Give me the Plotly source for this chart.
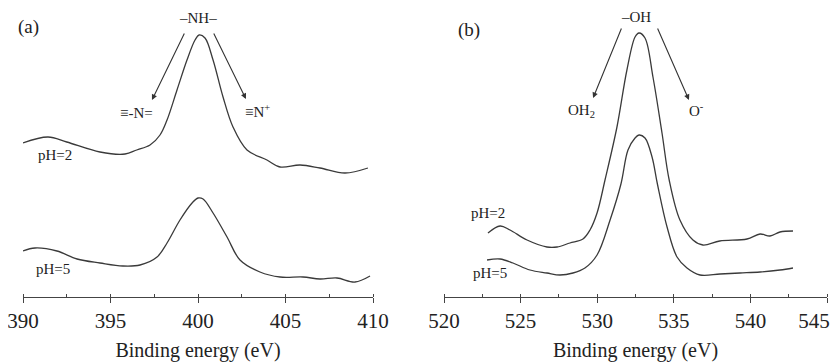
import plotly.graph_objects as go

# Panel (a): N 1s
a_ph2_x = [390, 391.43, 392.5, 394.4, 395.83, 396.5, 397.26, 397.83, 398.23, 398.8, 399.37, 399.83,
           400.06, 400.4, 400.86, 401.43, 402, 402.8, 403.94, 404.69, 405.83, 406.97, 408.4, 409.71]
a_ph2_y = [154, 160, 155, 145, 143, 147, 152, 162, 177, 207, 237, 257,
           262, 259, 237, 200, 170, 147, 137, 130, 132, 129, 124, 129]
a_ph5_x = [390, 390.69, 391.94, 393.09, 394.4, 395.71, 396.69, 397.66, 398.23, 398.97, 399.66, 400,
           400.29, 400.86, 401.66, 402.4, 403.54, 404.69, 406, 406.97, 407.94, 408.97, 409.83]
a_ph5_y = [46, 49, 46, 38, 34, 31, 32, 40, 54, 77, 94, 99,
           98, 84, 60, 37, 25, 20, 20, 18, 19, 15, 21]

# Panel (b): O 1s
b_ph2_x = [522.87, 523.66, 524.31, 525.42, 526.72, 527.38, 528.22, 529.07, 529.53, 529.99, 530.51,
           531.29, 531.94, 532.47, 532.73, 533.12, 533.64, 534.23, 534.7, 535.4, 536.25, 536.9,
           538.0, 539.78, 540.63, 541.28, 541.93, 542.78]
b_ph2_y = [64, 71, 67, 57, 50, 50, 54, 58, 67, 84, 117,
           170, 227, 260, 264, 259, 220, 164, 117, 77, 57, 52,
           56, 58, 63, 61, 65, 66]
b_ph5_x = [522.81, 523.66, 524.5, 525.61, 526.72, 527.57, 528.42, 529.2, 529.99, 530.84, 531.55,
           532.01, 532.47, 532.73, 533.12, 533.58, 533.93, 534.56, 535.21, 535.86, 536.71, 538.02,
           539.32, 540.63, 541.93, 542.78]
b_ph5_y = [37, 38, 34, 27, 24, 22, 24, 29, 42, 77, 113,
           147, 159, 162, 159, 140, 113, 70, 40, 29, 22, 23,
           24, 25, 27, 29]

a_ticks = [390, 395, 400, 405, 410]
a_tick_labels = ["390", "395", "400", "405", "410"]
b_ticks = [520, 525, 530, 535, 540, 545]
b_tick_labels = ["520", "525", "530", "535", "540", "545\u00a0\u00a0\u00a0\u00a0\u00a0"]
x_title = "Binding energy (eV)"

LINE = dict(color="#3a3a3a", width=1.3)
FONT = "Liberation Serif, Times New Roman, serif"

W, H = 831, 355  # page has an 8px body margin

fig = go.Figure()
fig.add_trace(go.Scatter(x=a_ph2_x, y=a_ph2_y, mode="lines", line=dict(LINE, shape="spline"), xaxis="x", yaxis="y"))
fig.add_trace(go.Scatter(x=a_ph5_x, y=a_ph5_y, mode="lines", line=dict(LINE, shape="spline"), xaxis="x", yaxis="y"))
fig.add_trace(go.Scatter(x=b_ph2_x, y=b_ph2_y, mode="lines", line=dict(LINE, shape="spline"), xaxis="x2", yaxis="y2"))
fig.add_trace(go.Scatter(x=b_ph5_x, y=b_ph5_y, mode="lines", line=dict(LINE, shape="spline"), xaxis="x2", yaxis="y2"))

xa = dict(showgrid=False, zeroline=False, showline=True, linecolor="#444", linewidth=1.2,
          ticks="outside", ticklen=5, tickwidth=1.2, tickcolor="#444", automargin=False,
          ticklabeloverflow="allow",
          tickfont=dict(size=21, color="#222", family=FONT),
          title=dict(text=x_title, font=dict(size=20, color="#222", family=FONT), standoff=10),
          minor=dict(ticks="inside", ticklen=3, tickwidth=1.2, tickcolor="#444", dtick=2.5, showgrid=False))
ya = dict(visible=False, range=[0, 289], fixedrange=True, automargin=False)

fig.update_layout(
    width=W, height=H,
    margin=dict(l=0, r=0, t=0, b=66, autoexpand=False),
    paper_bgcolor="white", plot_bgcolor="white",
    showlegend=False,
    font=dict(family=FONT, color="#222"),
    xaxis=dict(xa, domain=[15/W, 365/W], range=[390, 410], tickvals=a_ticks, ticktext=a_tick_labels, anchor="y"),
    yaxis=dict(ya, domain=[0, 1], anchor="x"),
    xaxis2=dict(xa, domain=[436/W, 819/W], range=[520, 545], tickvals=b_ticks, ticktext=b_tick_labels, anchor="y2"),
    yaxis2=dict(ya, domain=[0, 1], anchor="x2"),
)

def txt(x, y, t, xr, yr, size=15):
    fig.add_annotation(x=x, y=y, xref=xr, yref=yr, text=t, showarrow=False,
                       font=dict(size=size, color="#222", family=FONT))

def arrow(x0, y0, x1, y1, xr, yr):
    fig.add_annotation(x=x1, y=y1, ax=x0, ay=y0, xref=xr, yref=yr, axref=xr, ayref=yr,
                       text="", showarrow=True, arrowhead=2, arrowsize=1, arrowwidth=1.1,
                       arrowcolor="#333", standoff=0)

# Panel (a) labels
txt(390.3, 270, "(a)", "x", "y", 19)
txt(400.0, 279, "–NH–", "x", "y", 15)
txt(396.5, 184, "≡-N=", "x", "y", 15)
txt(403.4, 186, "≡N<sup>+</sup>", "x", "y", 15)
txt(391.8, 142, "pH=2", "x", "y", 15)
txt(391.7, 28, "pH=5", "x", "y", 15)
arrow(399.26, 265, 397.37, 197, "x", "y")
arrow(400.86, 265, 402.74, 198, "x", "y")

# Panel (b) labels
txt(521.6, 267, "(b)", "x2", "y2", 19)
txt(532.5, 280, "–OH", "x2", "y2", 15)
txt(529.0, 186, "OH<sub>2</sub>", "x2", "y2", 15)
txt(536.5, 187, "O<sup>-</sup>", "x2", "y2", 15)
txt(522.9, 84, "pH=2", "x2", "y2", 15)
txt(523.0, 24, "pH=5", "x2", "y2", 15)
arrow(531.62, 270, 529.73, 199, "x2", "y2")
arrow(533.9, 270, 535.99, 197, "x2", "y2")

fig.write_html("out.html")
